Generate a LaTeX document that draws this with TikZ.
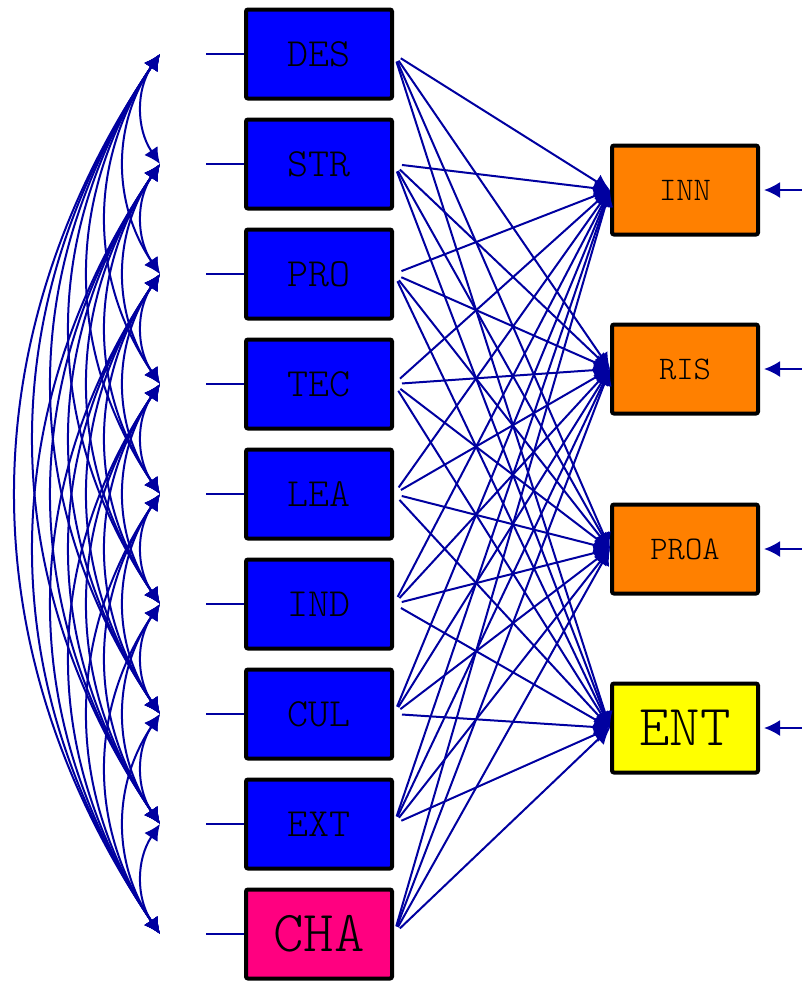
\documentclass[tikz,border=0pt]{standalone}
\usepackage{fontspec}
\usetikzlibrary{arrows.meta}
\definecolor{pathblue}{RGB}{0,0,160}
\definecolor{boxblue}{RGB}{0,0,255}
\definecolor{boxorange}{RGB}{255,128,0}
\definecolor{boxyellow}{RGB}{255,255,0}
\definecolor{boxpink}{RGB}{255,0,128}

\begin{document}
\begin{tikzpicture}[x=0.5pt,y=-0.5pt,
    varbox/.style={draw,line width=2pt,rounded corners=1pt,minimum width=73pt,minimum height=44.5pt,inner sep=0pt},
    obsvar/.style={varbox,fill=boxblue,font=\fontsize{20}{20}\ttfamily\fontseries{l}\selectfont},
    latvar/.style={varbox,fill=boxorange,font=\fontsize{16.5}{16.5}\ttfamily\fontseries{l}\selectfont},
    link/.style={pathblue,line width=1pt,-{Latex[length=8pt,width=8pt]}},
    covar/.style={pathblue,line width=1pt,{Latex[length=8pt,width=8pt]}-{Latex[length=8pt,width=8pt]}}]
  \useasboundingbox (0,0) rectangle (802,982);

  % exogenous variables
  \node (L1) at (319,54)  [obsvar] {DES};
  \node (L2) at (319,164) [obsvar] {STR};
  \node (L3) at (319,274) [obsvar] {PRO};
  \node (L4) at (319,384) [obsvar] {TEC};
  \node (L5) at (319,494) [obsvar] {LEA};
  \node (L6) at (319,604) [obsvar] {IND};
  \node (L7) at (319,714) [obsvar] {CUL};
  \node (L8) at (319,824) [obsvar] {EXT};
  \node (L9) at (319,934) [varbox,fill=boxpink,font=\fontsize{29}{29}\ttfamily\fontseries{l}\selectfont] {CHA};

  % endogenous variables
  \node (R1) at (685,190) [latvar] {INN};
  \node (R2) at (685,369) [latvar] {RIS};
  \node (R3) at (685,549) [latvar] {PROA};
  \node (R4) at (685,728) [varbox,fill=boxyellow,font=\fontsize{29}{29}\ttfamily\fontseries{l}\selectfont] {ENT};

  % covariance ends and stubs
  \foreach \i in {1,...,9} {
    \coordinate (C\i) at (160,{54+110*(\i-1)});
    \coordinate (S\i) at (206,{54+110*(\i-1)});
    \draw[pathblue,line width=1pt] (S\i) -- (L\i.west);
  }
  \foreach \i in {1,...,8} {
    \pgfmathtruncatemacro\nxt{\i+1}
    \foreach \j in {\nxt,...,9}
      \draw[covar] (C\i) to[bend right=34] (C\j);
  }

  % paths
  \foreach \i in {1,...,9}
    \foreach \j in {1,...,4}
      \draw[link,shorten <=4pt] (L\i.east) -- (R\j.west);

  % residuals
  \foreach \j/\y in {1/190,2/369,3/549,4/728} {
    \coordinate (E\j) at (802,\y);
    \draw[link,shorten >=2pt] (E\j) -- (R\j.east);
  }
\end{tikzpicture}
\end{document}
